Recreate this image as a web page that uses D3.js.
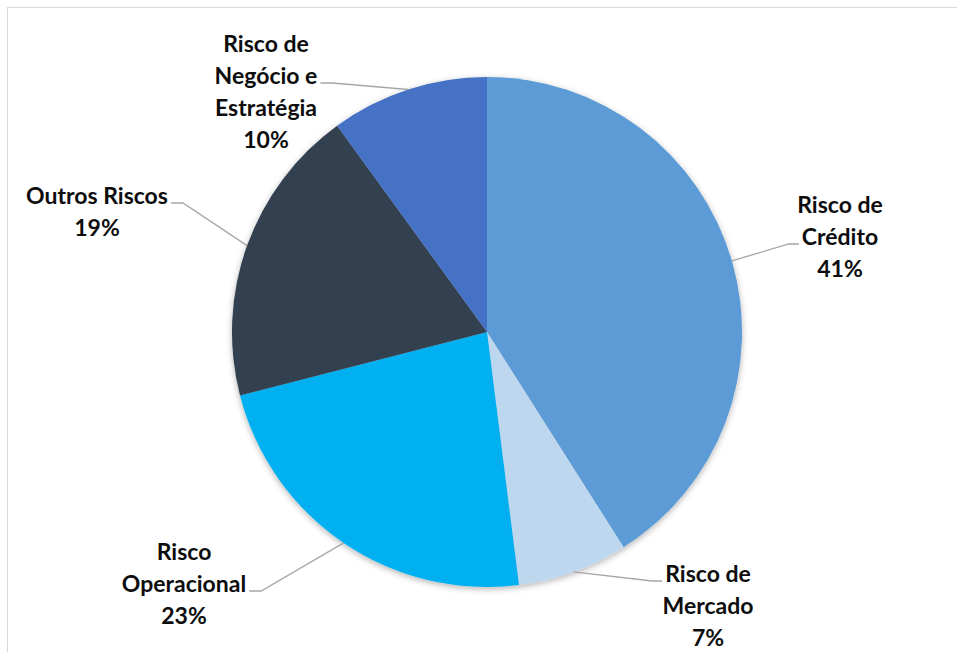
<!DOCTYPE html>
<html lang="pt">
<head>
<meta charset="UTF-8">
<title>Distribuição de Riscos</title>
<script src="https://d3js.org/d3.v7.min.js"></script>
<style>
    body { margin: 0; background: #fff; }
    .lbl { font-family: Lato, "Open Sans", sans-serif; font-weight: bold; font-size: 23px; fill: #0d0d0d; }
</style>
</head>
<body>
<div id="chart"></div>
<script>
const width = 957;
const height = 652;

// data
const categories = ["Risco de Crédito", "Risco de Mercado", "Risco Operacional", "Outros Riscos", "Risco de Negócio e Estratégia"];
const values = [41, 7, 23, 19, 10];
const colors = ["#5b9bd5", "#bdd7ee", "#00b0f0", "#333f50", "#4472c4"];
// how each label wraps, as in the original
const labelLines = [
    ["Risco de", "Crédito"],
    ["Risco de", "Mercado"],
    ["Risco", "Operacional"],
    ["Outros Riscos"],
    ["Risco de", "Negócio e", "Estratégia"]
];

// label placement (center of text block relative to pie center), which line the leader meets, and side
const labelPos = [
    { x: 353, y: -95, line: 1, side: "left" },
    { x: 221, y: 274, line: 0, side: "left" },
    { x: -303, y: 252, line: 1, side: "right" },
    { x: -390, y: -120, line: 0, side: "right" },
    { x: -221, y: -240, line: 1, side: "right" }
];
const lineH = 32;

const cx = 487, cy = 332, R = 255;

const svg = d3.select("#chart").append("svg")
    .attr("width", width)
    .attr("height", height);

// chart area border
svg.append("rect")
    .attr("x", 7.5).attr("y", 7.5)
    .attr("width", width).attr("height", height)
    .attr("fill", "none")
    .attr("stroke", "#d9d9d9");

const defs = svg.append("defs");
defs.append("filter").attr("id", "shadow")
    .attr("x", "-10%").attr("y", "-10%").attr("width", "120%").attr("height", "120%")
    .append("feDropShadow")
    .attr("dx", 0).attr("dy", 2).attr("stdDeviation", 3)
    .attr("flood-color", "#000").attr("flood-opacity", 0.3);

const pie = d3.pie().sort(null).value(d => d)(values);
const arc = d3.arc().innerRadius(0).outerRadius(R);

const g = svg.append("g").attr("transform", `translate(${cx},${cy})`);

g.append("g").attr("filter", "url(#shadow)")
    .selectAll("path")
    .data(pie)
    .join("path")
    .attr("d", arc)
    .attr("fill", (d, i) => colors[i]);

// leader lines + labels
pie.forEach((d, i) => {
    const mid = (d.startAngle + d.endAngle) / 2;
    const ex = R * Math.sin(mid), ey = -R * Math.cos(mid);
    const lp = labelPos[i];
    const lines = labelLines[i].concat([values[i] + "%"]);
    const blockH = lines.length * lineH;

    const text = g.append("text").attr("class", "lbl").attr("text-anchor", "middle");
    lines.forEach((t, k) => {
        text.append("tspan")
            .attr("x", lp.x)
            .attr("y", lp.y - blockH / 2 + lineH * (k + 0.5))
            .attr("dy", "0.35em")
            .text(t);
    });

    const k = lp.line;
    const ly = lp.y - blockH / 2 + lineH * (k + 0.5) + 7;
    const tmp = g.append("text").attr("class", "lbl").text(lines[k]);
    const w = tmp.node().getComputedTextLength();
    tmp.remove();
    const tx = lp.side === "left" ? lp.x - w / 2 - 3 : lp.x + w / 2 + 3;
    const elbow = lp.side === "left" ? tx - 10 : tx + 12;

    g.insert("polyline", "text")
        .attr("points", `${ex},${ey} ${elbow},${ly} ${tx},${ly}`)
        .attr("fill", "none")
        .attr("stroke", "#a6a6a6")
        .attr("stroke-width", 1.3);
});
</script>
</body>
</html>
